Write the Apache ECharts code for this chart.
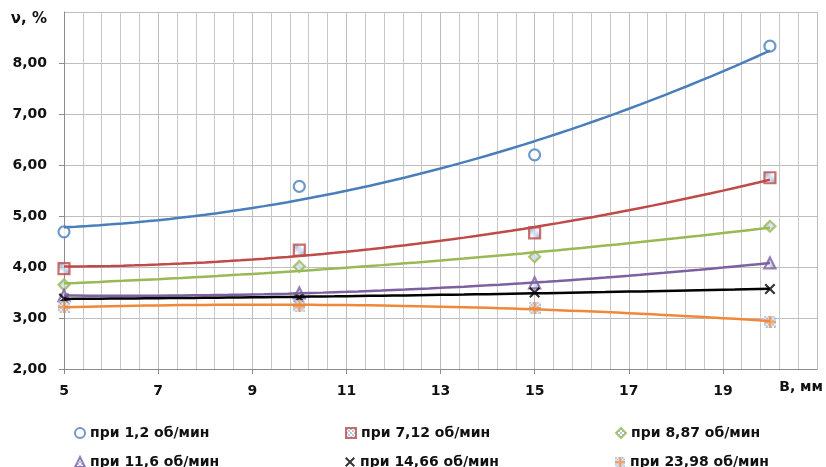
<!DOCTYPE html>
<html>
<head>
<meta charset="utf-8">
<script src="https://cdn.jsdelivr.net/npm/echarts@6/dist/echarts.min.js"></script>
<style>
  html, body { margin: 0; padding: 0; background: #ffffff; }
  #chart { width: 826px; height: 467px; }
</style>
</head>
<body>
<div id="chart"></div>
<script>
// Ширина B, мм
const widths = [5, 10, 15, 20];

// Неравномерность ν, % при разных частотах вращения
const nu_1_2   = [4.69, 5.58, 6.20, 8.33];
const nu_7_12  = [3.97, 4.33, 4.67, 5.75];
const nu_8_87  = [3.65, 4.01, 4.20, 4.80];
const nu_11_6  = [3.44, 3.49, 3.69, 4.08];
const nu_14_66 = [3.38, 3.40, 3.50, 3.57];
const nu_23_98 = [3.22, 3.23, 3.20, 2.93];

const seriesNames = [
  'при 1,2 об/мин', 'при 7,12 об/мин', 'при 8,87 об/мин',
  'при 11,6 об/мин', 'при 14,66 об/мин', 'при 23,98 об/мин'
];

const FONT = 'DejaVu Sans';

// small checkered fill used inside the markers
function checker() {
  const c = document.createElement('canvas');
  c.width = 4; c.height = 4;
  const g = c.getContext('2d');
  g.fillStyle = '#ffffff'; g.fillRect(0, 0, 4, 4);
  g.fillStyle = '#9fb9de';
  g.fillRect(0, 0, 2, 2); g.fillRect(2, 2, 2, 2);
  return c;
}
const pattern = { image: checker(), repeat: 'repeat' };

// plus marker on a checkered square
function plusMarker() {
  const c = document.createElement('canvas');
  c.width = 12; c.height = 12;
  const g = c.getContext('2d');
  for (let i = 0; i < 12; i += 2) {
    for (let j = 0; j < 12; j += 2) {
      g.fillStyle = ((i + j) / 2) % 2 === 0 ? '#9fb9de' : '#e6eef8';
      g.fillRect(i, j, 2, 2);
    }
  }
  g.fillStyle = '#f0883a';
  g.fillRect(5, 0, 2.4, 12);
  g.fillRect(0, 5, 12, 2.4);
  return 'image://' + c.toDataURL();
}

const crossPath = 'path://M0,1.4 L1.4,0 L5,3.6 L8.6,0 L10,1.4 L6.4,5 L10,8.6 L8.6,10 L5,6.4 L1.4,10 L0,8.6 L3.6,5 Z';

// quadratic least-squares trendline (polynomial of degree 2)
function quadTrend(xs, ys) {
  let s = [0, 0, 0, 0, 0], t = [0, 0, 0];
  for (let i = 0; i < xs.length; i++) {
    let p = 1;
    for (let k = 0; k < 5; k++) { s[k] += p; if (k < 3) t[k] += p * ys[i]; p *= xs[i]; }
  }
  const A = [[s[0], s[1], s[2], t[0]], [s[1], s[2], s[3], t[1]], [s[2], s[3], s[4], t[2]]];
  for (let c = 0; c < 3; c++) {
    for (let r = c + 1; r < 3; r++) {
      const f = A[r][c] / A[c][c];
      for (let k = c; k < 4; k++) A[r][k] -= f * A[c][k];
    }
  }
  const b = [0, 0, 0];
  for (let r = 2; r >= 0; r--) {
    let v = A[r][3];
    for (let k = r + 1; k < 3; k++) v -= A[r][k] * b[k];
    b[r] = v / A[r][r];
  }
  const pts = [];
  const x0 = xs[0], x1 = xs[xs.length - 1], n = 60;
  for (let i = 0; i <= n; i++) {
    const x = x0 + (x1 - x0) * i / n;
    pts.push([x, b[0] + b[1] * x + b[2] * x * x]);
  }
  return pts;
}

const values = [nu_1_2, nu_7_12, nu_8_87, nu_11_6, nu_14_66, nu_23_98];
const colors = ['#4a7ebb', '#be4b48', '#98b954', '#7d60a0', '#000000', '#f0883a'];
const markers = [
  { symbol: 'circle', symbolSize: 11, itemStyle: { color: '#ffffff', borderColor: colors[0], borderWidth: 2.2 } },
  { symbol: 'rect', symbolSize: 11, itemStyle: { color: pattern, borderColor: colors[1], borderWidth: 2.2 } },
  { symbol: 'diamond', symbolSize: 11, itemStyle: { color: pattern, borderColor: colors[2], borderWidth: 2.2 } },
  { symbol: 'triangle', symbolSize: 11, itemStyle: { color: pattern, borderColor: colors[3], borderWidth: 2.2 } },
  { symbol: crossPath, symbolSize: 11, itemStyle: { color: '#000000' } },
  { symbol: plusMarker(), symbolSize: 12, itemStyle: { color: colors[5] } }
];

const series = [];
values.forEach((vals, i) => {
  series.push(Object.assign({
    name: seriesNames[i],
    type: 'scatter',
    z: 2,
    data: widths.map((w, k) => [w, vals[k]])
  }, markers[i]));
});
values.forEach((vals, i) => {
  series.push({
    name: 'trend ' + i,
    type: 'line',
    z: 3,
    showSymbol: false,
    silent: true,
    lineStyle: { color: colors[i], width: 2.5 },
    data: quadTrend(widths, vals)
  });
});

// legend: three columns, two rows
const legendCols = [74, 345, 615];
const legendRows = [426, 455];
const legends = seriesNames.map((name, i) => ({
  left: legendCols[i % 3],
  top: legendRows[Math.floor(i / 3)],
  padding: 0,
  itemWidth: 10,
  itemHeight: 10,
  itemTextGap: 1,
  data: [name],
  textStyle: { fontFamily: FONT, fontWeight: 'bold', fontSize: 14, color: '#111111' }
}));

const option = {
  animation: false,
  backgroundColor: '#ffffff',
  grid: { left: 64, right: 9, top: 12, bottom: 98 },
  legend: legends,
  xAxis: {
    type: 'value',
    min: 5,
    max: 21,
    interval: 2,
    name: 'B, мм',
    nameLocation: 'end',
    nameGap: 6,
    nameTextStyle: { fontFamily: FONT, fontWeight: 'bold', fontSize: 14, color: '#111111',
      align: 'right', verticalAlign: 'top', padding: [11, 0, 0, 0] },
    axisLine: { show: true, lineStyle: { color: '#8c8c8c', width: 1 } },
    axisTick: { show: true, length: 5, lineStyle: { color: '#8c8c8c' } },
    axisLabel: { showMaxLabel: false, margin: 15, fontFamily: FONT, fontWeight: 'bold', fontSize: 14, color: '#111111' },
    splitLine: { show: true, lineStyle: { color: '#bdbdbd', width: 1 } },
    minorTick: { show: false, splitNumber: 5 },
    minorSplitLine: { show: true, lineStyle: { color: '#c8c8c8', width: 1 } }
  },
  yAxis: {
    type: 'value',
    min: 2,
    max: 9,
    interval: 1,
    name: 'ν, %',
    nameLocation: 'end',
    nameGap: -7,
    nameTextStyle: { fontFamily: FONT, fontWeight: 'bold', fontSize: 15, color: '#111111',
      align: 'right', verticalAlign: 'middle', padding: [0, 17, 0, 0] },
    axisLine: { show: true, lineStyle: { color: '#8c8c8c', width: 1 } },
    axisTick: { show: true, length: 5, lineStyle: { color: '#8c8c8c' } },
    axisLabel: {
      showMaxLabel: false, margin: 17, fontFamily: FONT, fontWeight: 'bold', fontSize: 14, color: '#111111',
      formatter: v => v.toFixed(2).replace('.', ',')
    },
    splitLine: { show: true, lineStyle: { color: '#bdbdbd', width: 1 } }
  },
  series: series
};

const chart = echarts.init(document.getElementById('chart'), null, { renderer: 'canvas' });
chart.setOption(option);
</script>
</body>
</html>
